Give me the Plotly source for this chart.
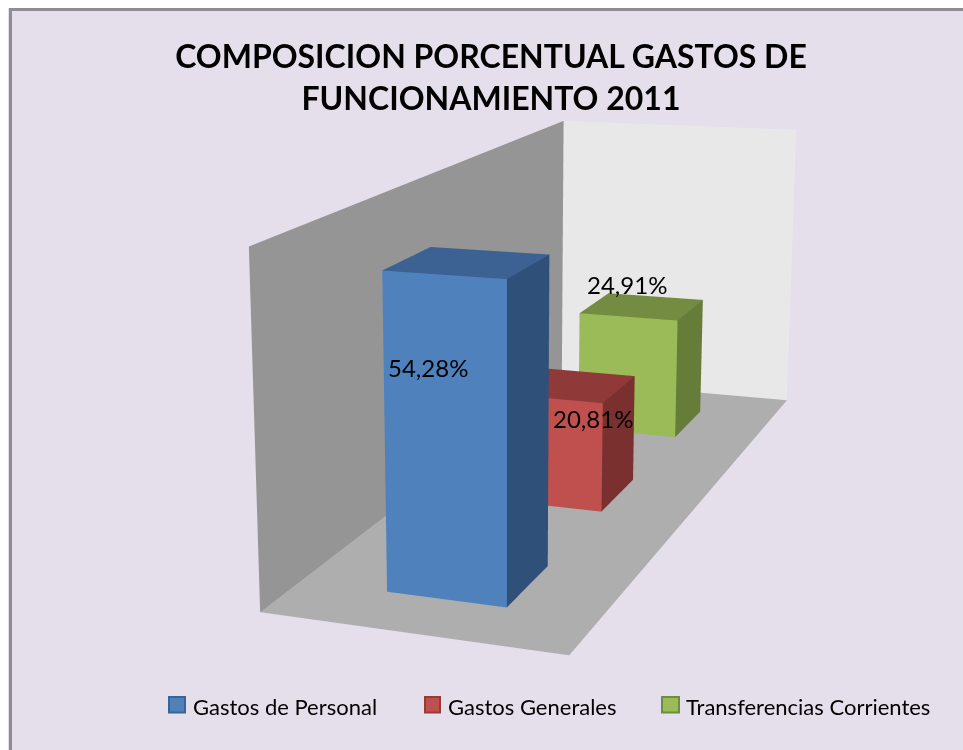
import numpy as np
import plotly.graph_objects as go

# ---- chart data
categories = ["Gastos de Personal", "Gastos Generales", "Transferencias Corrientes"]
values = [54.28, 20.81, 24.91]
title_lines = ["COMPOSICION PORCENTUAL GASTOS DE", "FUNCIONAMIENTO 2011"]
value_axis_max = 60.09

# ---- styling
front_colors = ["#4F81BD", "#C0504D", "#9BBB59"]
side_colors = ["#2F5079", "#7A302E", "#667D3A"]
top_colors = ["#3B6292", "#8F3A38", "#748C42"]
edge_colors = ["#3A6496", "#953C39", "#708C40"]
LEFT_WALL, BACK_WALL, FLOOR = "#959595", "#E8E8E8", "#AEAEAE"
W, H, OFF = 971, 758, 8

# ---- 3D view (Excel's skewed 3-D box mapped into the Plotly scene)
EYE = (-2.7647, -1.3143, 1.0611)
CEN = (-0.3284, 0.1625, -0.0663)
UP = (0.0533, -0.0209, 1.0)
BOX = np.array([[1.7168, -0.3143, 0.2782],
                [-0.2009, 0.9035, 0.1086],
                [0.1795, 0.0601, 1.0777]])
BOX_SHIFT = np.array([0.0180, 0.0424, 0.0042])
GAP_X, GAP_Y = 0.3002, 0.2989


def world(cat, depth, val):
    """Category position, depth (0-1) and value to scene coordinates."""
    return BOX @ np.array([cat / len(values) - 0.5, depth - 0.5, val / value_axis_max - 0.5]) + BOX_SHIFT


fig = go.Figure()
LIGHT = dict(ambient=1, diffuse=0, specular=0, roughness=1, fresnel=0)


def add_quads(quads, cols):
    vx, vy, vz, I, J, K, fc = [], [], [], [], [], [], []
    for q, col in zip(quads, cols):
        n = len(vx)
        for pt in q:
            a = world(*pt)
            vx.append(float(a[0])); vy.append(float(a[1])); vz.append(float(a[2]))
        I += [n, n]; J += [n + 1, n + 2]; K += [n + 2, n + 3]; fc += [col, col]
    fig.add_trace(go.Mesh3d(x=vx, y=vy, z=vz, i=I, j=J, k=K, facecolor=fc, flatshading=True,
                            hoverinfo="skip", showscale=False, lighting=LIGHT))


n = len(values)
zm = value_axis_max
add_quads([[(0, 0, 0), (n, 0, 0), (n, 1, 0), (0, 1, 0)],
           [(0, 1, 0), (n, 1, 0), (n, 1, zm), (0, 1, zm)],
           [(n, 0, 0), (n, 1, 0), (n, 1, zm), (n, 0, zm)]], [FLOOR, LEFT_WALL, BACK_WALL])
for k, v in enumerate(values):
    xl, xh, yl, yh = k + GAP_X, k + 1 - GAP_X, GAP_Y, 1 - GAP_Y
    add_quads([[(xl, yl, 0), (xl, yh, 0), (xl, yh, v), (xl, yl, v)],
               [(xl, yl, 0), (xh, yl, 0), (xh, yl, v), (xl, yl, v)],
               [(xl, yl, v), (xh, yl, v), (xh, yh, v), (xl, yh, v)]],
              [front_colors[k], side_colors[k], top_colors[k]])


def px(x):
    return x / W


def py(y):
    return 1 - y / H


labels = [f"{v:.2f}".replace(".", ",") + "%" for v in values]
label_pos = [(428, 368), (593, 418), (627, 285)]
for t, (x, y) in zip(labels, label_pos):
    fig.add_annotation(text=t, x=px(x), y=py(y), xref="paper", yref="paper", showarrow=False,
                       xanchor="center", yanchor="middle", font=dict(family="Lato", size=24, color="black"))

legend_swatch = [(169, 185), (425, 440), (662, 679)]
legend_text = [191, 445.5, 684]
for k, name in enumerate(categories):
    fig.add_shape(type="rect", x0=px(legend_swatch[k][0]), x1=px(legend_swatch[k][1]), y0=py(712.5), y1=py(697),
                  xref="paper", yref="paper", fillcolor=front_colors[k], line=dict(color=edge_colors[k], width=2))
    fig.add_annotation(text=name, x=px(legend_text[k]), y=py(706), xref="paper", yref="paper", showarrow=False,
                       xanchor="left", yanchor="middle", font=dict(family="Lato", size=22, color="black"))

# white page strip and grey frame on the top and left only
fig.add_shape(type="rect", x0=0, x1=1, y0=py(OFF), y1=1, xref="paper", yref="paper", fillcolor="white", line_width=0)
fig.add_shape(type="rect", x0=0, x1=px(OFF), y0=0, y1=1, xref="paper", yref="paper", fillcolor="white", line_width=0)
border = "#8E8E8E"
fig.add_shape(type="line", x0=px(10.5), x1=px(10.5), y0=py(9), y1=0, xref="paper", yref="paper",
              line=dict(color=border, width=3))
fig.add_shape(type="line", x0=px(9), x1=1, y0=py(9.5), y1=py(9.5), xref="paper", yref="paper",
              line=dict(color=border, width=3))

cam = lambda v: dict(x=v[0], y=v[1], z=v[2])
fig.update_layout(
    width=W, height=H, margin=dict(l=0, r=0, t=0, b=0), paper_bgcolor="#E5DFEC", showlegend=False,
    title=dict(text="<br>".join(title_lines), x=px(491), xanchor="center", y=py(68), yanchor="top",
               font=dict(family="Lato", size=32, color="black", weight="bold")),
    scene=dict(domain=dict(x=[px(OFF), 1], y=[0, py(OFF)]), aspectmode="manual", aspectratio=dict(x=4, y=4, z=4),
               xaxis=dict(visible=False, range=[-2, 2]), yaxis=dict(visible=False, range=[-2, 2]),
               zaxis=dict(visible=False, range=[-2, 2]), bgcolor="rgba(0,0,0,0)",
               camera=dict(projection=dict(type="perspective"), eye=cam(EYE), center=cam(CEN), up=cam(UP))))
fig.write_html("out.html", default_width=f"{W}px", default_height=f"{H}px", config={"displayModeBar": False},
               post_script="document.documentElement.style.overflow='hidden';document.body.style.margin='0';")
